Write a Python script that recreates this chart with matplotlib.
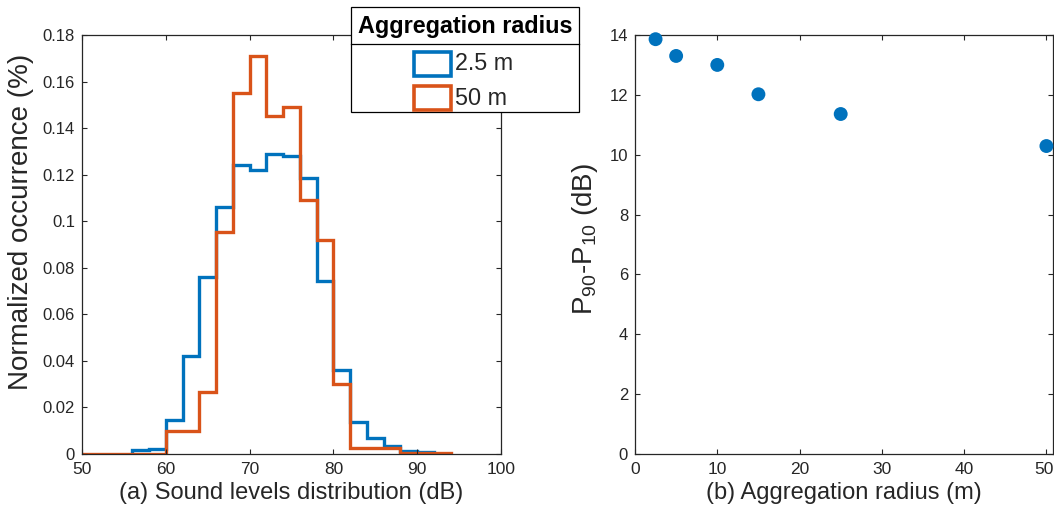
import matplotlib
matplotlib.use("Agg")
import matplotlib.pyplot as plt
from matplotlib.patches import Rectangle
from matplotlib.lines import Line2D
from matplotlib.transforms import ScaledTranslation

# ---------------- data ----------------
blue_edges = list(range(56, 94, 2))          # 2.5 m aggregation radius
blue_vals = [0.0017, 0.0023, 0.0147, 0.042, 0.076, 0.106, 0.124, 0.122, 0.129,
             0.128, 0.1185, 0.0744, 0.036, 0.0137, 0.0068, 0.0036, 0.0013, 0.0007]
orange_edges = list(range(50, 96, 2))        # 50 m aggregation radius
orange_vals = [0, 0, 0, 0, 0, 0.0099, 0.0099, 0.0266, 0.0955, 0.155, 0.171,
               0.145, 0.149, 0.109, 0.092, 0.030, 0.0027, 0.0027, 0.0027,
               0.0005, 0.0005, 0.0005]
legend_title = "Aggregation radius"
legend_labels = ["2.5 m", "50 m"]

radius = [2.5, 5, 10, 15, 25, 50]
spread = [13.86, 13.30, 13.0, 12.02, 11.36, 10.29]

left_xticks = [50, 60, 70, 80, 90, 100]
left_yticks = [0, 0.02, 0.04, 0.06, 0.08, 0.1, 0.12, 0.14, 0.16, 0.18]
left_yticklabels = ["0", "0.02", "0.04", "0.06", "0.08", "0.1", "0.12", "0.14", "0.16", "0.18"]
right_xticks = [0, 10, 20, 30, 40, 50]
right_yticks = [0, 2, 4, 6, 8, 10, 12, 14]

BLUE = "#0072BD"
ORANGE = "#D95319"
DARK = "#262626"

plt.rcParams["font.family"] = ["Liberation Sans", "DejaVu Sans"]
plt.rcParams["mathtext.fontset"] = "custom"
plt.rcParams["mathtext.rm"] = "Liberation Sans"
plt.rcParams["mathtext.it"] = "Liberation Sans"

W, H = 1054, 517
fig = plt.figure(figsize=(W / 100, H / 100), dpi=100)


def frect(l, t, r, b):
    return [l / W, 1 - b / H, (r - l) / W, (b - t) / H]


ax1 = fig.add_axes(frect(82, 35, 501, 454))
ax2 = fig.add_axes(frect(635, 35, 1053, 454))

# ---------------- left: histograms ----------------
ax1.stairs(blue_vals, blue_edges, baseline=0, color=BLUE, lw=2.4)
ax1.stairs(orange_vals, orange_edges, baseline=0, color=ORANGE, lw=2.4)
ax1.set_xlim(50, 100)
ax1.set_ylim(0, 0.18)
ax1.set_xticks(left_xticks)
ax1.set_yticks(left_yticks)
ax1.set_yticklabels(left_yticklabels)
ax1.set_xlabel("(a) Sound levels distribution (dB)", fontsize=17, color=DARK)
ax1.xaxis.set_label_coords(0.5, -0.092)
ax1.xaxis.label.set_va("center")
ax1.set_ylabel("Normalized occurrence (%)", fontsize=20, color=DARK)
ax1.yaxis.set_label_coords(-0.146, 0.554)
ax1.yaxis.label.set_va("center")

# ---------------- right: scatter ----------------
ax2.scatter(radius, spread, s=100, color=BLUE, edgecolors="none", zorder=3, clip_on=False)
ax2.set_xlim(0, 50.8)
ax2.set_ylim(0, 14)
ax2.set_xticks(right_xticks)
ax2.set_yticks(right_yticks)
ax2.set_xlabel("(b) Aggregation radius (m)", fontsize=17, color=DARK)
ax2.xaxis.set_label_coords(0.5, -0.092)
ax2.xaxis.label.set_va("center")
ax2.set_ylabel(r"P$_{90}$-P$_{10}$ (dB)", fontsize=20, color=DARK)
ax2.yaxis.set_label_coords(-0.12, 0.513)
ax2.yaxis.label.set_va("center")

for ax in (ax1, ax2):
    for sp in ax.spines.values():
        sp.set_color(DARK)
        sp.set_linewidth(0.9)
    ax.tick_params(direction="in", length=3.5, width=0.8, color=DARK,
                   top=True, right=True, labelcolor=DARK)
    ax.tick_params(axis="y", labelsize=12, pad=5)
    ax.tick_params(axis="x", labelsize=12.5, pad=6)

# keep the last tick label of the right panel inside the figure
last = ax2.get_xticklabels()[-1]
last.set_transform(last.get_transform() + ScaledTranslation(-2.5 / 100, 0, fig.dpi_scale_trans))

# ---------------- legend (MATLAB style with title bar) ----------------
def fx(x):
    return x / W


def fy(y):
    return 1 - y / H


fig.add_artist(Rectangle((fx(351), fy(112)), fx(579) - fx(351), fy(7) - fy(112),
                         transform=fig.transFigure, facecolor="white", edgecolor="black",
                         lw=0.9, zorder=10))
fig.add_artist(Line2D([fx(351), fx(579)], [fy(43.5), fy(43.5)], transform=fig.transFigure,
                      color="black", lw=0.9, zorder=11))
fig.text(fx(465), fy(27), legend_title, ha="center", va="center", fontsize=16.8,
         fontweight="bold", color="black", zorder=12)
for i, (lab, col) in enumerate(zip(legend_labels, [BLUE, ORANGE])):
    top = 51.5 + i * 34.5
    fig.add_artist(Rectangle((fx(414), fy(top + 24)), fx(451) - fx(414), fy(top) - fy(top + 24),
                             transform=fig.transFigure, facecolor="none", edgecolor=col,
                             lw=2.6, zorder=12))
    fig.text(fx(455), fy(top + 12.5), lab, ha="left", va="center", fontsize=16.8,
             color=DARK, zorder=12)

fig.savefig("out.png", dpi=100)
